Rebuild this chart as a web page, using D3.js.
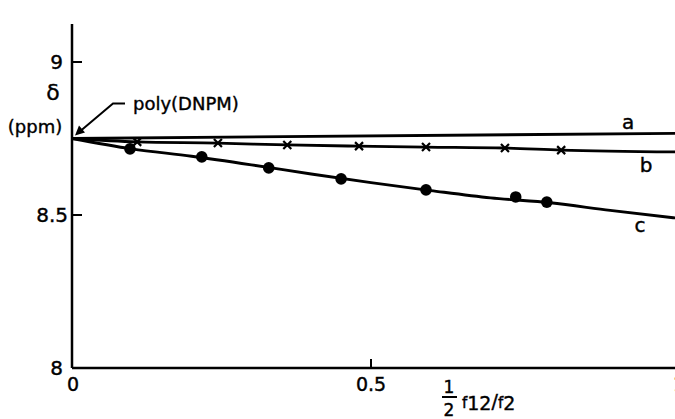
<!DOCTYPE html>
<html>
<head>
<meta charset="utf-8">
<script src="https://cdn.jsdelivr.net/npm/d3@7"></script>
<style>
  body { margin: 0; background: #fff; }
  svg { display: block; }
  text { font-family: "DejaVu Sans", sans-serif; fill: #000; stroke: #000; stroke-width: 0.4; }
</style>
</head>
<body>
<svg width="675" height="419"></svg>
<script>
// ---- data ----
var yTicks = [8, 8.5, 9];
var xTicks = [0, 0.5, 1];
var xTickLabels = ["0", "0.5", "1"];

// curve a (no points)
var lineAx = [0, 1.01];
var lineAy = [8.75, 8.767];

// curve b and its crosses
var lineBx = [0, 0.109, 0.244, 0.36, 0.48, 0.592, 0.724, 0.818, 1.01];
var lineBy = [8.75, 8.739, 8.735, 8.729, 8.725, 8.722, 8.719, 8.712, 8.706];
var crossX = [0.109, 0.244, 0.36, 0.48, 0.592, 0.724, 0.818];
var crossY = [8.739, 8.735, 8.729, 8.725, 8.722, 8.719, 8.712];

// curve c and its dots
var lineCx = [0, 0.1, 0.2, 0.3, 0.4, 0.5, 0.6, 0.7, 0.8, 0.9, 1.01];
var lineCy = [8.75, 8.716, 8.692, 8.664, 8.634, 8.606, 8.58, 8.556, 8.54, 8.515, 8.49];
var dotX = [0.097, 0.217, 0.329, 0.45, 0.592, 0.742, 0.794];
var dotY = [8.716, 8.69, 8.654, 8.618, 8.582, 8.559, 8.542];

var curveLabels = ["a", "b", "c"];

var svg = d3.select("svg");
var x = d3.scaleLinear().domain([0, 1]).range([72, 670]);
var y = d3.scaleLinear().domain([8, 9]).range([368, 62]);

function zip(xs, ys) { return xs.map(function(v, i) { return [v, ys[i]]; }); }

var line = d3.line()
  .x(function(d) { return x(d[0]); })
  .y(function(d) { return y(d[1]); })
  .curve(d3.curveMonotoneX);

// axes
svg.append("line")
  .attr("x1", x(0)).attr("x2", x(0))
  .attr("y1", y(8)).attr("y2", 24)
  .attr("stroke", "#000").attr("stroke-width", 2.5);
svg.append("line")
  .attr("x1", x(0)).attr("x2", 675)
  .attr("y1", y(8)).attr("y2", y(8))
  .attr("stroke", "#000").attr("stroke-width", 2.5);

// y ticks (inside)
svg.selectAll(".ytick").data(yTicks.filter(function(t) { return t > 8; }))
  .enter().append("line")
  .attr("x1", x(0)).attr("x2", x(0) + 10)
  .attr("y1", function(d) { return y(d); }).attr("y2", function(d) { return y(d); })
  .attr("stroke", "#000").attr("stroke-width", 2);
svg.selectAll(".ylab").data(yTicks)
  .enter().append("text")
  .attr("x", function(d) { return d === 8.5 ? x(0) - 4 : x(0) - 9; })
  .attr("y", function(d) { return y(d) + 7; })
  .attr("text-anchor", "end")
  .attr("font-size", 20)
  .text(function(d) { return d === 8.5 ? "8.5" : d; });

// x ticks
svg.selectAll(".xtick").data(xTicks.filter(function(t) { return t === 0.5; }))
  .enter().append("line")
  .attr("x1", function(d) { return x(d); }).attr("x2", function(d) { return x(d); })
  .attr("y1", y(8)).attr("y2", y(8) - 9)
  .attr("stroke", "#000").attr("stroke-width", 2);
svg.selectAll(".xlab").data(xTicks)
  .enter().append("text")
  .attr("x", function(d, i) { return i === 2 ? x(d) + 3 : (i === 0 ? x(d) + 1 : x(d)); })
  .attr("y", y(8) + 23)
  .attr("text-anchor", function(d, i) { return i === 2 ? "start" : "middle"; })
  .attr("font-size", 19)
  .text(function(d, i) { return xTickLabels[i]; });

// curves
[[lineAx, lineAy], [lineBx, lineBy], [lineCx, lineCy]].forEach(function(s) {
  svg.append("path")
    .attr("d", line(zip(s[0], s[1])))
    .attr("fill", "none")
    .attr("stroke", "#000")
    .attr("stroke-width", 2.8);
});

// crosses
svg.selectAll(".cross").data(zip(crossX, crossY))
  .enter().append("path")
  .attr("transform", function(d) { return "translate(" + x(d[0]) + "," + y(d[1]) + ")"; })
  .attr("d", "M-4,-4L4,4M-4,4L4,-4")
  .attr("stroke", "#000").attr("stroke-width", 2.2);

// dots
svg.selectAll(".dot").data(zip(dotX, dotY))
  .enter().append("circle")
  .attr("cx", function(d) { return x(d[0]); })
  .attr("cy", function(d) { return y(d[1]); })
  .attr("r", 5.8)
  .attr("fill", "#000");

// curve labels
var labPos = [[0.93, 8.781], [0.96, 8.64], [0.95, 8.444]];
svg.selectAll(".clab").data(curveLabels)
  .enter().append("text")
  .attr("x", function(d, i) { return x(labPos[i][0]); })
  .attr("y", function(d, i) { return y(labPos[i][1]); })
  .attr("text-anchor", "middle")
  .attr("font-size", 20)
  .text(function(d) { return d; });

// poly(DNPM) annotation with leader arrow
var tipX = x(0) + 3, tipY = y(8.75) - 3;
svg.append("path")
  .attr("d", "M" + (tipX + 50) + "," + (tipY - 32) + "H" + (tipX + 38) + "L" + (tipX + 6) + "," + (tipY - 5))
  .attr("fill", "none").attr("stroke", "#000").attr("stroke-width", 2);
svg.append("path")
  .attr("d", "M" + tipX + "," + tipY + "L" + (tipX + 4) + "," + (tipY - 10) + "L" + (tipX + 10) + "," + (tipY - 3) + "Z")
  .attr("fill", "#000");
svg.append("text")
  .attr("x", 133).attr("y", 110)
  .attr("font-size", 18)
  .text("poly(DNPM)");

// y axis label
svg.append("text")
  .attr("x", 53).attr("y", 100)
  .attr("text-anchor", "middle")
  .attr("font-size", 22)
  .text("δ");
svg.append("text")
  .attr("x", 35).attr("y", 133)
  .attr("text-anchor", "middle")
  .attr("font-size", 18)
  .text("(ppm)");

// x axis label: ½ f12/f2
var xl = svg.append("g");
xl.append("text").attr("x", 449).attr("y", 393).attr("text-anchor", "middle").attr("font-size", 17).text("1");
xl.append("line").attr("x1", 442).attr("x2", 457).attr("y1", 397).attr("y2", 397)
  .attr("stroke", "#000").attr("stroke-width", 2);
xl.append("text").attr("x", 449).attr("y", 416).attr("text-anchor", "middle").attr("font-size", 17).text("2");
var fx = xl.append("text").attr("x", 462).attr("y", 408).attr("font-size", 19);
fx.append("tspan").attr("font-size", 15).text("f");
fx.append("tspan").attr("dy", 2).text("12");
fx.append("tspan").attr("dy", -2).text("/");
fx.append("tspan").attr("font-size", 15).text("f");
fx.append("tspan").attr("dy", 2).text("2");
</script>
</body>
</html>
